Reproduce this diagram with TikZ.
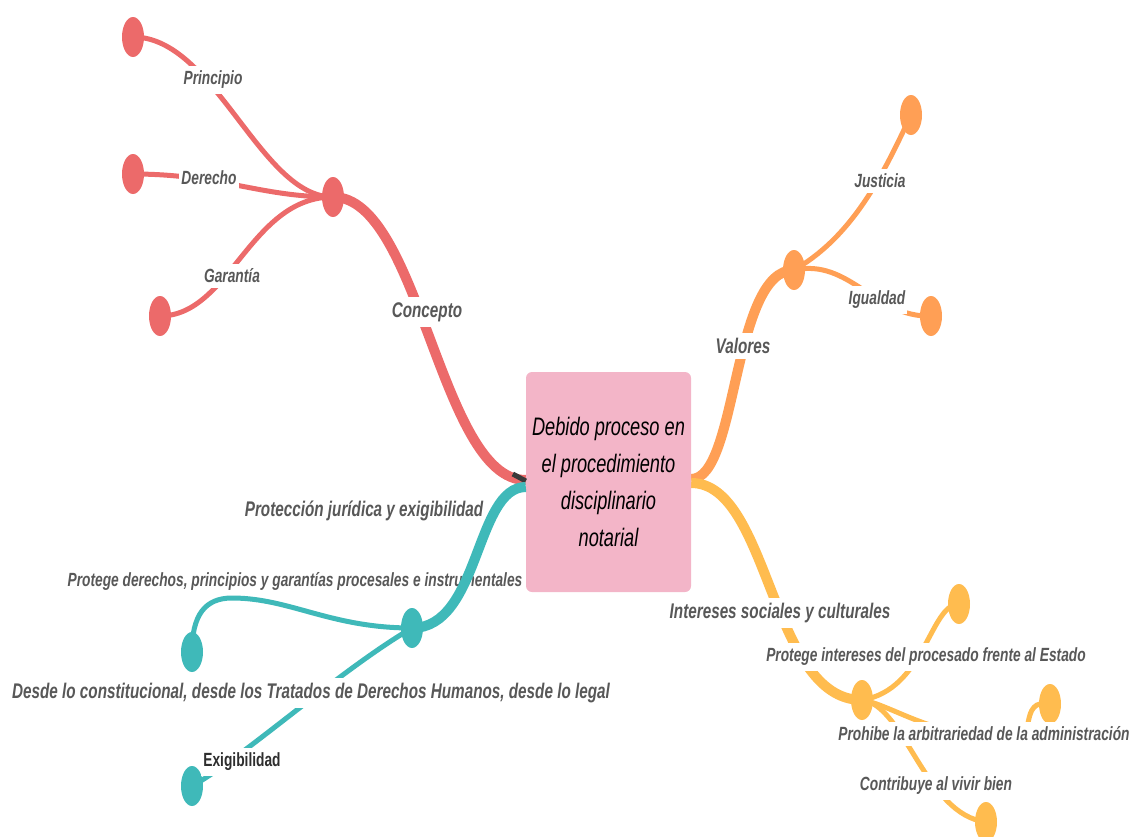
\documentclass[tikz,border=0pt]{standalone}
\usepackage{fontspec}
\setmainfont{Liberation Sans}
\newfontfamily\lblf[FakeStretch=0.72]{Liberation Sans}
\usetikzlibrary{shapes.geometric}
\pgfdeclarelayer{background}
\pgfdeclarelayer{foreground}
\pgfsetlayers{background,main,foreground}
\definecolor{cred}{HTML}{EC6A6A}
\definecolor{corange}{HTML}{FF9F55}
\definecolor{cyellow}{HTML}{FFBC4F}
\definecolor{cteal}{HTML}{3FB9B9}
\definecolor{pinkbox}{HTML}{F3B5C8}
\definecolor{labelgray}{HTML}{585858}
\definecolor{exiggray}{HTML}{2E2E2E}
\definecolor{darkmark}{HTML}{3A3A3A}
\tikzset{
  leaf/.style={ellipse, fill=#1, minimum width=22pt, minimum height=40pt, inner sep=0pt},
  biglbl/.style={font=\lblf\bfseries\itshape\fontsize{21.2}{24}\selectfont, text=labelgray, fill=white, inner xsep=2pt, inner ysep=5pt},
  smalllbl/.style={font=\lblf\bfseries\itshape\fontsize{19.1}{22}\selectfont, text=labelgray, fill=white, inner xsep=2pt, inner ysep=5pt},
  trunk/.style={line width=10pt},
  twig/.style={line width=5pt},
  centerbox/.style={fill=pinkbox, rounded corners=6pt, minimum width=165pt, minimum height=220pt, align=center, inner sep=0pt, font=\lblf\itshape\fontsize{25.3}{37}\selectfont, text=black}
}
\begin{document}
\begin{tikzpicture}[x=1pt,y=-1pt]
\useasboundingbox (0,0) rectangle (1130,836);
% central box
\node[centerbox] (C) at (608.5,482) {Debido proceso en\\el procedimiento\\disciplinario\\notarial};
% red
\node[leaf=cred] (R) at (333,197) {};
\node[leaf=cred] (R1) at (133,37) {};
\node[leaf=cred] (R2) at (133,174) {};
\node[leaf=cred] (R3) at (160,316) {};
\node[smalllbl] (lR1) at (213,80) {Principio};
\node[smalllbl] (lR2) at (209,178) {Derecho};
\node[smalllbl] (lR3) at (232,276) {Garantía};
\node[biglbl] (lR) at (427,312) {Concepto};
% orange
\node[leaf=corange] (O) at (794,270) {};
\node[leaf=corange] (O1) at (911,115) {};
\node[leaf=corange] (O2) at (931,316) {};
\node[smalllbl] (lO1) at (880,181) {Justicia};
\node[smalllbl] (lO2) at (877,300) {Igualdad};
\node[biglbl] (lO) at (743,346) {Valores};
% yellow
\node[leaf=cyellow] (Y) at (862,700) {};
\node[leaf=cyellow] (Y1) at (959,604) {};
\node[leaf=cyellow] (Y2) at (1050,704) {};
\node[leaf=cyellow] (Y3) at (986,822) {};
\coordinate (Y2hook) at (1027,730);
\node[biglbl] (lY) at (780,613) {Intereses sociales y culturales};
\node[smalllbl] (lY1) at (926,657) {Protege intereses del procesado frente al Estado};
\node[smalllbl] (lY2) at (984,734) {Prohibe la arbitrariedad de la administración};
\node[smalllbl] (lY3) at (936,786) {Contribuye al vivir bien};
% teal
\node[leaf=cteal] (T) at (412,628) {};
\node[leaf=cteal] (T1) at (192,652) {};
\node[leaf=cteal] (T2) at (192,786) {};
\coordinate (T1via) at (232,598);
\node[biglbl] (lT) at (364,511) {Protección jurídica y exigibilidad};
\node[smalllbl, fill=none] (lT1) at (295,581) {Protege derechos, principios y garantías procesales e instrumentales};
\node[biglbl] (lT2) at (311,693) {Desde lo constitucional, desde los Tratados de Derechos Humanos, desde lo legal};
\node[smalllbl, font=\lblf\bfseries\fontsize{19.1}{22}\selectfont, text=exiggray] (lT3) at (242,762) {Exigibilidad};
% dark mark at the box
\draw[line width=5pt, darkmark] ([xshift=-13pt,yshift=8pt]C.west) -- ([yshift=1pt]C.west);
\begin{pgfonlayer}{background}
  \draw[trunk, cred] (R.center) .. controls (420,197) and (440,480) .. ([yshift=2pt]C.west);
  \draw[twig, cred] (R.center) .. controls (260,197) and (215,37) .. (R1.center);
  \draw[twig, cred] (R.center) .. controls (260,197) and (220,174) .. (R2.center);
  \draw[twig, cred] (R.center) .. controls (250,197) and (230,316) .. (R3.center);
  \draw[trunk, corange] ([yshift=3pt]C.east) .. controls (738,479) and (732,270) .. (O.center);
  \draw[twig, corange] (O.center) .. controls (855,235) and (885,170) .. (O1.center);
  \draw[twig, corange] (O.center) .. controls (850,258) and (875,318) .. (O2.center);
  \draw[trunk, cyellow] ([yshift=-1pt]C.east) .. controls (770,483) and (770,700) .. (Y.center);
  \draw[twig, cyellow] (Y.center) .. controls (925,690) and (930,604) .. (Y1.center);
  \draw[twig, cyellow] (Y.center) .. controls (895,705) and (950,750) .. (Y2hook) .. controls (1030,706) and (1035,702) .. (Y2.center);
  \draw[twig, cyellow] (Y.center) .. controls (905,705) and (925,815) .. (Y3.center);
  \draw[twig, cteal] (T.center) .. controls (330,628) and (290,598) .. (T1via) .. controls (205,598) and (192,615) .. (T1.center);
  \draw[twig, cteal] (T.center) .. controls (340,670) and (240,760) .. (T2.center);
\end{pgfonlayer}
\begin{pgfonlayer}{foreground}
  \draw[trunk, cteal] ([yshift=-5pt]C.west) .. controls (475,487) and (480,628) .. (T.center);
\end{pgfonlayer}
\end{tikzpicture}
\end{document}
